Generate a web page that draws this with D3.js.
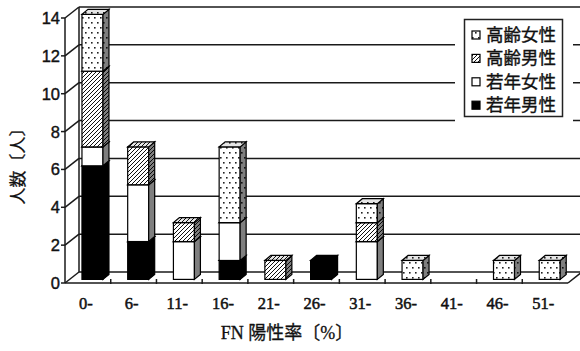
<!DOCTYPE html>
<html>
<head>
<meta charset="utf-8">
<script src="https://cdn.jsdelivr.net/npm/d3@7"></script>
<style>
  html, body { margin: 0; padding: 0; background: #fff; }
  svg { display: block; }
</style>
</head>
<body>
<svg id="chart" width="580" height="351"></svg>
<script>
// FN positive-rate bins and head counts per group
const categories = ["0-", "6-", "11-", "16-", "21-", "26-", "31-", "36-", "41-", "46-", "51-"];
const youngMale   = [6, 2, 0, 1, 0, 1, 0, 0, 0, 0, 0]; // 若年男性
const youngFemale = [1, 3, 2, 2, 0, 0, 2, 0, 0, 0, 0]; // 若年女性
const oldMale     = [4, 2, 1, 0, 1, 0, 1, 0, 0, 0, 0]; // 高齢男性
const oldFemale   = [3, 0, 0, 4, 0, 0, 1, 1, 0, 1, 1]; // 高齢女性
const seriesNames = ["若年男性", "若年女性", "高齢男性", "高齢女性"];
const yTicks = [0, 2, 4, 6, 8, 10, 12, 14];

const rows = categories.map((c, i) => ({
  cat: c,
  "若年男性": youngMale[i],
  "若年女性": youngFemale[i],
  "高齢男性": oldMale[i],
  "高齢女性": oldFemale[i]
}));
const stacked = d3.stack().keys(seriesNames)(rows);

const svg = d3.select("#chart");
const ink = "#111";

// --- fill patterns ---
const defs = svg.append("defs");
const dots = defs.append("pattern").attr("id", "dots")
  .attr("patternUnits", "userSpaceOnUse").attr("width", 6).attr("height", 10);
dots.append("rect").attr("width", 6).attr("height", 10).attr("fill", "#fff");
dots.append("rect").attr("x", 1).attr("y", 2).attr("width", 1.6).attr("height", 1.6).attr("fill", "#222");
dots.append("rect").attr("x", 4).attr("y", 7).attr("width", 1.6).attr("height", 1.6).attr("fill", "#222");

const hatch = defs.append("pattern").attr("id", "hatch")
  .attr("patternUnits", "userSpaceOnUse").attr("width", 4).attr("height", 4);
hatch.append("rect").attr("width", 4).attr("height", 4).attr("fill", "#fff");
hatch.append("path").attr("d", "M-1,1 l2,-2 M0,4 l4,-4 M3,5 l2,-2")
  .attr("stroke", "#111").attr("stroke-width", 1);

const fills = {
  "若年男性": "#000",
  "若年女性": "#fff",
  "高齢男性": "url(#hatch)",
  "高齢女性": "url(#dots)"
};

// --- geometry ---
const x0 = 65, x1 = 568;
const depth = { dx: 14, dy: -11 };          // floor / wall depth
const barOff = { dx: 4.6, dy: -3.6 };       // bar front plane inside the depth
const barDepth = { dx: 6, dy: -5 };         // bar thickness
const barW = 21;

const x = d3.scaleBand().domain(categories).range([x0, x1]).padding(0);
const y = d3.scaleLinear().domain([0, 14]).range([283, 18]);

// --- walls and gridlines ---
const grid = svg.append("g").attr("stroke", "#1a1a1a").attr("stroke-width", 1.5).attr("fill", "none");
yTicks.forEach(v => {
  const yy = y(v);
  // back wall line
  grid.append("line")
    .attr("x1", x0 + depth.dx).attr("x2", x1 + depth.dx + 20)
    .attr("y1", yy + depth.dy).attr("y2", yy + depth.dy);
  // left wall diagonal
  grid.append("line")
    .attr("x1", x0).attr("y1", yy)
    .attr("x2", x0 + depth.dx).attr("y2", yy + depth.dy);
  // tick on the front value axis
  grid.append("line")
    .attr("x1", x0 - 4).attr("x2", x0).attr("y1", yy).attr("y2", yy);
});
// back-left edge of the wall
grid.append("line")
  .attr("x1", x0 + depth.dx).attr("x2", x0 + depth.dx)
  .attr("y1", y(0) + depth.dy).attr("y2", y(14) + depth.dy);
// front value axis
grid.append("line")
  .attr("x1", x0).attr("x2", x0).attr("y1", y(0)).attr("y2", y(14));
// floor front edge and right edge
grid.append("line")
  .attr("x1", x0).attr("x2", x1).attr("y1", y(0)).attr("y2", y(0));
grid.append("line")
  .attr("x1", x1).attr("y1", y(0)).attr("x2", x1 + depth.dx).attr("y2", y(0) + depth.dy);
// category ticks on the floor
categories.forEach((c, i) => {
  if (i === 0) return;
  const xx = x(c);
  grid.append("line").attr("x1", xx).attr("x2", xx).attr("y1", y(0) - 4).attr("y2", y(0) + 1);
});

// --- legend background (breaks the back-wall lines) ---
const legend = svg.append("g");
legend.append("rect").attr("x", 455).attr("y", 11).attr("width", 118).attr("height", 114).attr("fill", "#fff");

// --- bars ---
const barsG = svg.append("g");
categories.forEach((c, i) => {
  const cx = x(c) + x.bandwidth() / 2 + barOff.dx;
  const left = cx - barW / 2, right = cx + barW / 2;
  stacked.forEach(s => {
    const [v0, v1] = s[i];
    if (v1 - v0 <= 0) return;
    const yb = y(v0) + barOff.dy, yt = y(v1) + barOff.dy;
    const f = fills[s.key];
    const g = barsG.append("g");
    // front face
    g.append("rect").attr("x", left).attr("y", yt).attr("width", barW).attr("height", yb - yt)
      .attr("fill", f).attr("stroke", "#000").attr("stroke-width", 1.2);
    // right side face
    const side = `M${right},${yb} L${right + barDepth.dx},${yb + barDepth.dy} L${right + barDepth.dx},${yt + barDepth.dy} L${right},${yt} Z`;
    g.append("path").attr("d", side).attr("fill", f);
    g.append("path").attr("d", side).attr("fill", "rgba(0,0,0,0.5)").attr("stroke", "#000").attr("stroke-width", 1.2);
    // top face
    const top = `M${left},${yt} L${right},${yt} L${right + barDepth.dx},${yt + barDepth.dy} L${left + barDepth.dx},${yt + barDepth.dy} Z`;
    g.append("path").attr("d", top).attr("fill", f);
    g.append("path").attr("d", top).attr("fill", "rgba(0,0,0,0.1)").attr("stroke", "#000").attr("stroke-width", 1.2);
  });
});

// heavier text strokes for the printed look
function heavy(sel, w) {
  return sel.attr("fill", ink).attr("stroke", ink).attr("stroke-width", w).attr("paint-order", "stroke");
}

// --- value axis labels ---
heavy(svg.append("g").selectAll("text").data(yTicks).join("text")
  .attr("x", x0 - 5).attr("y", d => y(d) + 6)
  .attr("text-anchor", "end")
  .attr("font-family", "'Liberation Sans', Arial, sans-serif")
  .attr("font-size", 16.5)
  .text(d => d), 0.4);

// --- category labels ---
heavy(svg.append("g").selectAll("text").data(categories).join("text")
  .attr("x", d => x(d) + x.bandwidth() / 2 - 2).attr("y", 309)
  .attr("text-anchor", "middle")
  .attr("font-family", "'Liberation Serif', serif")
  .attr("font-size", 16.5)
  .text(d => d), 0.5);

// --- axis titles ---
heavy(svg.append("text")
  .attr("transform", "translate(24,162) rotate(-90)")
  .attr("text-anchor", "middle")
  .attr("font-family", "'Noto Sans CJK JP', sans-serif")
  .attr("font-size", 17)
  .text("人数〔人〕"), 0.3);

heavy(svg.append("text")
  .attr("x", 287).attr("y", 339)
  .attr("text-anchor", "middle")
  .attr("font-family", "'Liberation Serif', 'Noto Sans CJK JP', serif")
  .attr("font-size", 18)
  .text("FN 陽性率〔%〕"), 0.3);

// --- legend ---
legend.append("rect").attr("x", 464.5).attr("y", 19.5).attr("width", 98).attr("height", 97)
  .attr("fill", "#fff").attr("stroke", "#222").attr("stroke-width", 1.5);
const legendOrder = ["高齢女性", "高齢男性", "若年女性", "若年男性"];
legendOrder.forEach((k, j) => {
  const cy = 35 + j * 23.4;
  legend.append("rect").attr("x", 472).attr("y", cy - 4).attr("width", 8).attr("height", 8)
    .attr("fill", fills[k]).attr("stroke", "#000").attr("stroke-width", 1.2);
  heavy(legend.append("text").attr("x", 486).attr("y", cy + 6)
    .attr("font-family", "'Noto Sans CJK JP', sans-serif")
    .attr("font-size", 17.5)
    .text(k), 0.35);
});
</script>
</body>
</html>
